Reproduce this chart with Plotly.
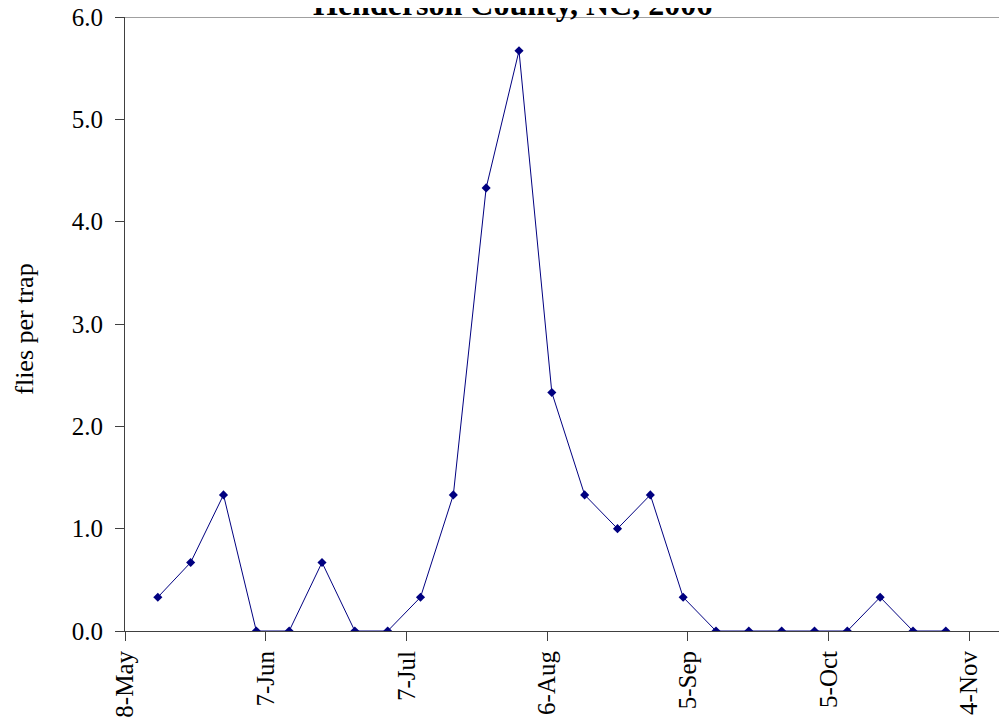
import plotly.graph_objects as go

# Data
dates = ["2006-05-15", "2006-05-22", "2006-05-29", "2006-06-05", "2006-06-12",
         "2006-06-19", "2006-06-26", "2006-07-03", "2006-07-10", "2006-07-17",
         "2006-07-24", "2006-07-31", "2006-08-07", "2006-08-14", "2006-08-21",
         "2006-08-28", "2006-09-04", "2006-09-11", "2006-09-18", "2006-09-25",
         "2006-10-02", "2006-10-09", "2006-10-16", "2006-10-23", "2006-10-30"]
flies = [0.33, 0.67, 1.33, 0.0, 0.0,
         0.67, 0.0, 0.0, 0.33, 1.33,
         4.33, 5.67, 2.33, 1.33, 1.0,
         1.33, 0.33, 0.0, 0.0, 0.0,
         0.0, 0.0, 0.33, 0.0, 0.0]
tick_dates = ["2006-05-08", "2006-06-07", "2006-07-07", "2006-08-06",
              "2006-09-05", "2006-10-05", "2006-11-04"]
tick_labels = ["8-May", "7-Jun", "7-Jul", "6-Aug", "5-Sep", "5-Oct", "4-Nov"]
y_ticks = [0, 1, 2, 3, 4, 5, 6]
title_text = "Henderson County, NC, 2006"
y_title = "flies per trap"

FONT = "Liberation Serif, Times New Roman, serif"
NAVY = "#000080"
AXIS = "#404040"

# page body adds an 8px offset; compensate
OFF = 8
W, H = 1007 - OFF, 725 - OFF
ML, MR, MT, MB = 125 - OFF, 0, 17 - OFF, 94
plot_w = W - ML - MR
plot_h = H - MT - MB

fig = go.Figure()
fig.add_trace(go.Scatter(
    x=dates, y=flies, mode="lines+markers",
    line=dict(color=NAVY, width=1),
    marker=dict(symbol="diamond", size=7, color=NAVY),
    showlegend=False, hoverinfo="skip",
))

fig.update_layout(
    width=W, height=H,
    margin=dict(l=ML, r=MR, t=MT, b=MB, pad=0, autoexpand=False),
    paper_bgcolor="white", plot_bgcolor="white",
    font=dict(family=FONT, color="black"),
    xaxis=dict(
        type="date", automargin=False, ticklabeloverflow="allow",
        range=["2006-05-08", "2006-11-12 01:00"],
        tickvals=tick_dates, ticktext=tick_labels,
        tickangle=-90, tickfont=dict(size=25, family=FONT, color="black"),
        ticks="outside", ticklen=9, tickcolor=AXIS, tickwidth=1,
        showline=True, linecolor=AXIS, linewidth=1,
        showgrid=False, zeroline=False, fixedrange=True,
    ),
    yaxis=dict(
        range=[0, 6], automargin=False, ticklabeloverflow="allow",
        tickvals=y_ticks, tickformat=".1f",
        tickfont=dict(size=25, family=FONT, color="black"),
        ticks="outside", ticklen=9, tickcolor=AXIS, tickwidth=1,
        ticklabelstandoff=7,
        showline=True, linecolor=AXIS, linewidth=1,
        showgrid=False, zeroline=False, fixedrange=True,
    ),
    shapes=[dict(type="line", xref="paper", yref="y", x0=0, x1=1, y0=6, y1=6,
                 line=dict(color="#808080", width=1.5))],
    annotations=[
        dict(text="<b>" + title_text + "</b>", xref="paper", yref="paper",
             x=(512 - 125) / plot_w, y=1.0, xanchor="center", yanchor="bottom",
             yshift=-7, showarrow=False,
             font=dict(size=32, family=FONT, color="black")),
        dict(text=y_title, xref="paper", yref="paper",
             x=(25 - 125) / plot_w, y=(631 - 330) / (631 - 17.5),
             xanchor="center", yanchor="middle", textangle=-90,
             showarrow=False, font=dict(size=26, family=FONT, color="black")),
    ],
)

fig.write_html("out.html")
